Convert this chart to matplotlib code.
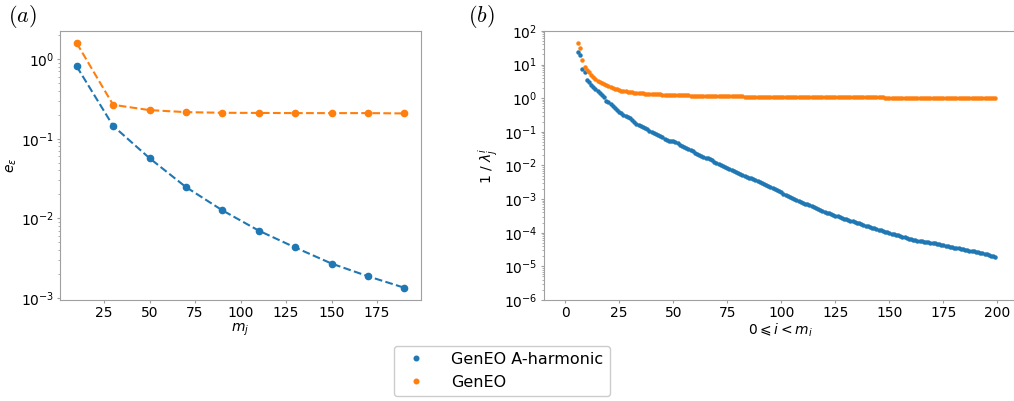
import numpy as np
import matplotlib
matplotlib.use("Agg")
import matplotlib.pyplot as plt

# panel (a): error vs number of eigenvectors m_j
m_j = [10, 30, 50, 70, 90, 110, 130, 150, 170, 190]
err_harm = [0.81, 0.145, 0.057, 0.0247, 0.0126, 0.0070, 0.0043, 0.0027, 0.00187, 0.00134]
err_geneo = [1.59, 0.267, 0.229, 0.216, 0.212, 0.211, 0.210, 0.210, 0.210, 0.208]

# panel (b): 1/lambda for i = 6..199, stored as log10 values
idx_start = 6
log_inv_harm = [
    1.38, 1.28, 0.86, 0.78, 0.55, 0.47, 0.40, 0.33, 0.26, 0.20,
    0.15, 0.10, 0.03, -0.08, -0.12, -0.16, -0.22, -0.28, -0.34, -0.40,
    -0.44, -0.50, -0.53, -0.56, -0.60, -0.66, -0.72, -0.76, -0.79, -0.83,
    -0.86, -0.89, -0.93, -0.97, -1.00, -1.04, -1.07, -1.10, -1.13, -1.16,
    -1.20, -1.23, -1.26, -1.27, -1.28, -1.30, -1.34, -1.38, -1.41, -1.44,
    -1.47, -1.51, -1.55, -1.58, -1.62, -1.65, -1.68, -1.71, -1.74, -1.77,
    -1.79, -1.81, -1.85, -1.89, -1.93, -1.96, -1.99, -2.02, -2.05, -2.08,
    -2.11, -2.14, -2.17, -2.20, -2.23, -2.25, -2.27, -2.30, -2.33, -2.36,
    -2.38, -2.41, -2.44, -2.47, -2.50, -2.53, -2.56, -2.59, -2.62, -2.65,
    -2.68, -2.71, -2.74, -2.77, -2.80, -2.84, -2.87, -2.90, -2.93, -2.96,
    -2.99, -3.02, -3.05, -3.09, -3.12, -3.14, -3.16, -3.19, -3.22, -3.25,
    -3.27, -3.30, -3.32, -3.35, -3.37, -3.40, -3.42, -3.45, -3.48, -3.50,
    -3.51, -3.53, -3.56, -3.58, -3.60, -3.62, -3.64, -3.66, -3.68, -3.70,
    -3.72, -3.74, -3.77, -3.79, -3.81, -3.83, -3.85, -3.87, -3.89, -3.91,
    -3.93, -3.95, -3.97, -3.99, -4.01, -4.03, -4.05, -4.07, -4.08, -4.10,
    -4.12, -4.14, -4.16, -4.18, -4.20, -4.21, -4.22, -4.24, -4.25, -4.26,
    -4.27, -4.28, -4.29, -4.30, -4.31, -4.32, -4.33, -4.35, -4.36, -4.37,
    -4.38, -4.40, -4.41, -4.42, -4.44, -4.45, -4.46, -4.48, -4.49, -4.50,
    -4.51, -4.53, -4.54, -4.55, -4.56, -4.58, -4.59, -4.61, -4.62, -4.64,
    -4.66, -4.68, -4.70, -4.73,
]
log_inv_geneo = [
    1.65, 1.50, 1.15, 0.93, 0.85, 0.78, 0.70, 0.64, 0.58, 0.52,
    0.48, 0.44, 0.41, 0.38, 0.35, 0.32, 0.30, 0.28, 0.26, 0.24,
    0.22, 0.21, 0.20, 0.19, 0.18, 0.17, 0.162, 0.156, 0.150, 0.145,
    0.140, 0.136, 0.132, 0.128, 0.124, 0.120, 0.117, 0.114, 0.111, 0.108,
    0.105, 0.102, 0.099, 0.096, 0.094, 0.092, 0.090, 0.088, 0.086, 0.084,
    0.082, 0.080, 0.078, 0.076, 0.074, 0.072, 0.071, 0.070, 0.069, 0.068,
    0.067, 0.066, 0.065, 0.064, 0.063, 0.062, 0.061, 0.060, 0.059, 0.058,
    0.057, 0.056, 0.055, 0.054, 0.053, 0.052, 0.051, 0.050, 0.049, 0.048,
    0.047, 0.046, 0.046, 0.045, 0.044, 0.044, 0.043, 0.042, 0.042, 0.041,
    0.041, 0.040, 0.040, 0.039, 0.039, 0.038, 0.038, 0.037, 0.037, 0.036,
    0.036, 0.035, 0.035, 0.034, 0.034, 0.033, 0.033, 0.032, 0.032, 0.032,
    0.031, 0.031, 0.030, 0.030, 0.030, 0.029, 0.029, 0.028, 0.028, 0.028,
    0.027, 0.027, 0.027, 0.026, 0.026, 0.026, 0.025, 0.025, 0.025, 0.024,
    0.024, 0.024, 0.023, 0.023, 0.023, 0.022, 0.022, 0.022, 0.021, 0.021,
    0.021, 0.021, 0.020, 0.020, 0.020, 0.020, 0.019, 0.019, 0.019, 0.019,
    0.018, 0.018, 0.018, 0.018, 0.017, 0.017, 0.017, 0.017, 0.016, 0.016,
    0.016, 0.016, 0.016, 0.015, 0.015, 0.015, 0.015, 0.015, 0.014, 0.014,
    0.014, 0.014, 0.014, 0.013, 0.013, 0.013, 0.013, 0.013, 0.013, 0.012,
    0.012, 0.012, 0.012, 0.012, 0.012, 0.011, 0.011, 0.011, 0.011, 0.011,
    0.011, 0.010, 0.010, 0.010,
]
labels = ["GenEO A-harmonic", "GenEO"]

blue = "#1f77b4"
orange = "#ff7f0e"
spine_col = "#a0a0a0"

plt.rcParams["font.size"] = 10

fig = plt.figure(figsize=(10.14, 4.01), dpi=100)
ax1 = fig.add_axes([0.0595, 0.2519, 0.3554, 0.671])
ax2 = fig.add_axes([0.536, 0.2519, 0.4669, 0.671])

ax1.plot(m_j, err_harm, "o--", color=blue, ms=4.5, lw=1.5)
ax1.plot(m_j, err_geneo, "o--", color=orange, ms=4.5, lw=1.5)
ax1.set_yscale("log")
ax1.set_xticks([25, 50, 75, 100, 125, 150, 175])
ax1.set_xlabel("$m_j$", labelpad=1)
ax1.set_ylabel(r"$e_\varepsilon$", labelpad=1)

ii = np.arange(idx_start, idx_start + len(log_inv_harm))
l1, = ax2.plot(ii, 10 ** np.array(log_inv_harm), "o", color=blue, ms=2.2,
               ls="none", snap=False)
l2, = ax2.plot(ii, 10 ** np.array(log_inv_geneo), "o", color=orange, ms=2.2,
               ls="none", snap=False)
ax2.set_yscale("log")
ax2.set_ylim(1e-6, 1e2)
ax2.set_xlim(-10, 209)
ax2.set_xticks([0, 25, 50, 75, 100, 125, 150, 175, 200])
ax2.set_xlabel(r"$0\leqslant i < m_i$", labelpad=1)
ax2.set_ylabel(r"$1\ /\ \lambda_j^i$", labelpad=3)

for ax in (ax1, ax2):
    for s in ax.spines.values():
        s.set_color(spine_col)
    ax.tick_params(which="major", length=2.5, pad=2, color=spine_col)
    ax.tick_params(which="minor", length=1.5, color=spine_col)

fig.text(0.008, 0.945, "$(a)$", fontsize=16, math_fontfamily="cm")
fig.text(0.462, 0.945, "$(b)$", fontsize=16, math_fontfamily="cm")

fig.legend([l1, l2], labels, loc="center", bbox_to_anchor=(0.495, 0.075),
           fontsize=11.5, markerscale=1.5, handletextpad=1.2, framealpha=1)

fig.savefig("out.png", dpi=100)
